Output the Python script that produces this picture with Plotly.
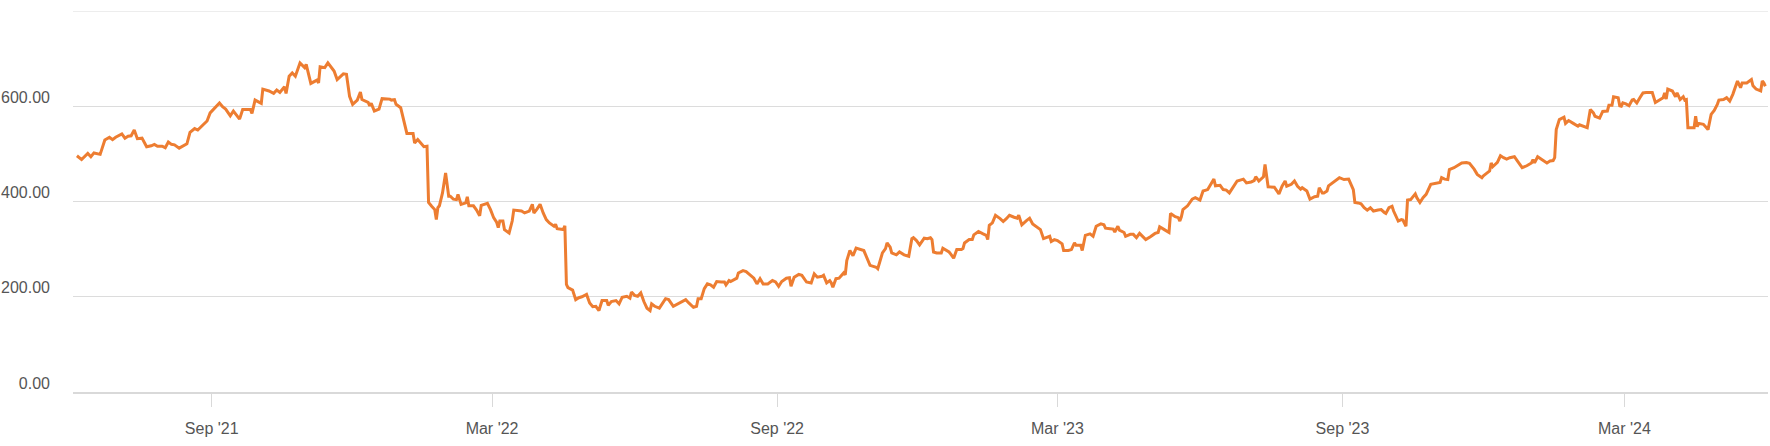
import plotly.graph_objects as go

dates = [
    "2021-06-06", "2021-06-09", "2021-06-13", "2021-06-15", "2021-06-17", "2021-06-21", "2021-06-24", "2021-06-27",
    "2021-06-29", "2021-07-01", "2021-07-05", "2021-07-07", "2021-07-09", "2021-07-11", "2021-07-13", "2021-07-15",
    "2021-07-18", "2021-07-21", "2021-07-24", "2021-07-26", "2021-07-28", "2021-07-31", "2021-08-02", "2021-08-04",
    "2021-08-06", "2021-08-08", "2021-08-11", "2021-08-14", "2021-08-16", "2021-08-18", "2021-08-21", "2021-08-23",
    "2021-08-26", "2021-08-29", "2021-08-31", "2021-09-06", "2021-09-08", "2021-09-10", "2021-09-13", "2021-09-15",
    "2021-09-19", "2021-09-21", "2021-09-26", "2021-09-27", "2021-09-29", "2021-10-03", "2021-10-04", "2021-10-08",
    "2021-10-11", "2021-10-13", "2021-10-15", "2021-10-18", "2021-10-19", "2021-10-21", "2021-10-23", "2021-10-25",
    "2021-10-28", "2021-10-31", "2021-11-01", "2021-11-04", "2021-11-08", "2021-11-09", "2021-11-10", "2021-11-13",
    "2021-11-15", "2021-11-19", "2021-11-21", "2021-11-25", "2021-11-27", "2021-11-29", "2021-12-01", "2021-12-04",
    "2021-12-06", "2021-12-07", "2021-12-11", "2021-12-12", "2021-12-13", "2021-12-15", "2021-12-18", "2021-12-20",
    "2021-12-25", "2021-12-26", "2021-12-28", "2021-12-29",
    "2022-01-01", "2022-01-03", "2022-01-05", "2022-01-09", "2022-01-10", "2022-01-12", "2022-01-16", "2022-01-18",
    "2022-01-19", "2022-01-21", "2022-01-23", "2022-01-24", "2022-01-25", "2022-01-26", "2022-01-28", "2022-01-30",
    "2022-02-01", "2022-02-02", "2022-02-04", "2022-02-06", "2022-02-07", "2022-02-09", "2022-02-12", "2022-02-13",
    "2022-02-14", "2022-02-17", "2022-02-19", "2022-02-21", "2022-02-22", "2022-02-26", "2022-02-28", "2022-03-02",
    "2022-03-04", "2022-03-05", "2022-03-06", "2022-03-08", "2022-03-09", "2022-03-12", "2022-03-14", "2022-03-15",
    "2022-03-18", "2022-03-20", "2022-03-22", "2022-03-25", "2022-03-27", "2022-03-28", "2022-03-30", "2022-04-01",
    "2022-04-03", "2022-04-05", "2022-04-07", "2022-04-10", "2022-04-11", "2022-04-12", "2022-04-16", "2022-04-17",
    "2022-04-18", "2022-04-19", "2022-04-22", "2022-04-24", "2022-04-26", "2022-04-28", "2022-05-01", "2022-05-03",
    "2022-05-05", "2022-05-07", "2022-05-09", "2022-05-11", "2022-05-14", "2022-05-15", "2022-05-17", "2022-05-20",
    "2022-05-22", "2022-05-24", "2022-05-27", "2022-05-29", "2022-05-30", "2022-06-01", "2022-06-03", "2022-06-05",
    "2022-06-07", "2022-06-09", "2022-06-11", "2022-06-12", "2022-06-14", "2022-06-17", "2022-06-21", "2022-06-23",
    "2022-06-26", "2022-06-29", "2022-07-01", "2022-07-04", "2022-07-06", "2022-07-09", "2022-07-11", "2022-07-12",
    "2022-07-14", "2022-07-16", "2022-07-18", "2022-07-20", "2022-07-22", "2022-07-24", "2022-07-27", "2022-07-29",
    "2022-07-30", "2022-08-01", "2022-08-02", "2022-08-04", "2022-08-06", "2022-08-07", "2022-08-10", "2022-08-12",
    "2022-08-15", "2022-08-17", "2022-08-19", "2022-08-20", "2022-08-21", "2022-08-23", "2022-08-26", "2022-08-29",
    "2022-08-31", "2022-09-02", "2022-09-04", "2022-09-07", "2022-09-09", "2022-09-10", "2022-09-12", "2022-09-15",
    "2022-09-17", "2022-09-20", "2022-09-23", "2022-09-25", "2022-09-27", "2022-09-30", "2022-10-01", "2022-10-03",
    "2022-10-05", "2022-10-06", "2022-10-07", "2022-10-09", "2022-10-11", "2022-10-14", "2022-10-15", "2022-10-16",
    "2022-10-18", "2022-10-20", "2022-10-22", "2022-10-27", "2022-10-28", "2022-10-30", "2022-10-31", "2022-11-04",
    "2022-11-05", "2022-11-08", "2022-11-10", "2022-11-11", "2022-11-13", "2022-11-14", "2022-11-17", "2022-11-19",
    "2022-11-22", "2022-11-25", "2022-11-27", "2022-11-28", "2022-11-30", "2022-12-02", "2022-12-05", "2022-12-07",
    "2022-12-09", "2022-12-10", "2022-12-11", "2022-12-13", "2022-12-16", "2022-12-17", "2022-12-21", "2022-12-22",
    "2022-12-24", "2022-12-26", "2022-12-29", "2022-12-30", "2022-12-31",
    "2023-01-03", "2023-01-05", "2023-01-06", "2023-01-09", "2023-01-12", "2023-01-14", "2023-01-15", "2023-01-16",
    "2023-01-18", "2023-01-20", "2023-01-23", "2023-01-25", "2023-01-27", "2023-01-29", "2023-02-01", "2023-02-03",
    "2023-02-04", "2023-02-06", "2023-02-09", "2023-02-11", "2023-02-13", "2023-02-16", "2023-02-18", "2023-02-20",
    "2023-02-22", "2023-02-24", "2023-02-25", "2023-02-27", "2023-03-01", "2023-03-02", "2023-03-04", "2023-03-05",
    "2023-03-08", "2023-03-10", "2023-03-12", "2023-03-13", "2023-03-15", "2023-03-16", "2023-03-17", "2023-03-19",
    "2023-03-22", "2023-03-24", "2023-03-26", "2023-03-29", "2023-03-31", "2023-04-01", "2023-04-04", "2023-04-06",
    "2023-04-07", "2023-04-09", "2023-04-10", "2023-04-13", "2023-04-14", "2023-04-17", "2023-04-19", "2023-04-21",
    "2023-04-23", "2023-04-25", "2023-04-27", "2023-04-30", "2023-05-03", "2023-05-05", "2023-05-06", "2023-05-09",
    "2023-05-12", "2023-05-13", "2023-05-16", "2023-05-18", "2023-05-19", "2023-05-20", "2023-05-21", "2023-05-24",
    "2023-05-27", "2023-05-29", "2023-06-01", "2023-06-03", "2023-06-06", "2023-06-08", "2023-06-10", "2023-06-11",
    "2023-06-14", "2023-06-16", "2023-06-18", "2023-06-20", "2023-06-23", "2023-06-25", "2023-06-27", "2023-06-29",
    "2023-07-01", "2023-07-04", "2023-07-06", "2023-07-07", "2023-07-09", "2023-07-10", "2023-07-12", "2023-07-13",
    "2023-07-14", "2023-07-15", "2023-07-19", "2023-07-22", "2023-07-24", "2023-07-26", "2023-07-27", "2023-07-30",
    "2023-08-01", "2023-08-03", "2023-08-05", "2023-08-06", "2023-08-09", "2023-08-11", "2023-08-14", "2023-08-16",
    "2023-08-17", "2023-08-19", "2023-08-20", "2023-08-22", "2023-08-23", "2023-08-26", "2023-08-30", "2023-09-02",
    "2023-09-05", "2023-09-08", "2023-09-09", "2023-09-11", "2023-09-13", "2023-09-15", "2023-09-17", "2023-09-19",
    "2023-09-21", "2023-09-24", "2023-09-26", "2023-09-28", "2023-09-29", "2023-10-01", "2023-10-03", "2023-10-04",
    "2023-10-06", "2023-10-07", "2023-10-09", "2023-10-10", "2023-10-12", "2023-10-13", "2023-10-15", "2023-10-18",
    "2023-10-19", "2023-10-21", "2023-10-23", "2023-10-25", "2023-10-28", "2023-10-30", "2023-11-02", "2023-11-03",
    "2023-11-04", "2023-11-06", "2023-11-08", "2023-11-09", "2023-11-12", "2023-11-14", "2023-11-17", "2023-11-20",
    "2023-11-22", "2023-11-25", "2023-11-27", "2023-11-30", "2023-12-01", "2023-12-03", "2023-12-05", "2023-12-06",
    "2023-12-07", "2023-12-10", "2023-12-12", "2023-12-14", "2023-12-16", "2023-12-18", "2023-12-21", "2023-12-23",
    "2023-12-26", "2023-12-29",
    "2024-01-01", "2024-01-02", "2024-01-03", "2024-01-05", "2024-01-07", "2024-01-09", "2024-01-11", "2024-01-13",
    "2024-01-15", "2024-01-16", "2024-01-17", "2024-01-19", "2024-01-22", "2024-01-23", "2024-01-25", "2024-01-28",
    "2024-01-31", "2024-02-01", "2024-02-03", "2024-02-06", "2024-02-08", "2024-02-10", "2024-02-11", "2024-02-14",
    "2024-02-16", "2024-02-19", "2024-02-20", "2024-02-22", "2024-02-23", "2024-02-26", "2024-02-27", "2024-02-28",
    "2024-02-29", "2024-03-02", "2024-03-04", "2024-03-06", "2024-03-07", "2024-03-09", "2024-03-11", "2024-03-13",
    "2024-03-15", "2024-03-19", "2024-03-21", "2024-03-24", "2024-03-26", "2024-03-27", "2024-03-28", "2024-03-29",
    "2024-04-01", "2024-04-03", "2024-04-04", "2024-04-06", "2024-04-08", "2024-04-09", "2024-04-10", "2024-04-11",
    "2024-04-15", "2024-04-16", "2024-04-17", "2024-04-18", "2024-04-21", "2024-04-23", "2024-04-24", "2024-04-26",
    "2024-04-28", "2024-04-30", "2024-05-01", "2024-05-04", "2024-05-06", "2024-05-08", "2024-05-10", "2024-05-13",
    "2024-05-15", "2024-05-16", "2024-05-19", "2024-05-22", "2024-05-23", "2024-05-25", "2024-05-28", "2024-05-29",
    "2024-05-30", "2024-05-31",
]

prices = [
    496, 488, 501, 494, 502, 499, 529, 535, 530, 535, 542, 533, 537, 538, 550, 532,
    533, 515, 517, 520, 516, 516, 513, 525, 520, 519, 512, 517, 521, 545, 553, 550,
    559, 569, 586, 607, 599, 594, 580, 590, 573, 593, 593, 585, 613, 606, 636, 632,
    627, 634, 629, 641, 627, 663, 670, 663, 691, 681, 688, 648, 655, 649, 683, 681,
    691, 674, 656, 668, 667, 621, 604, 613, 630, 614, 608, 601, 606, 590, 594, 616,
    615, 613, 614, 604,
    597, 572, 543, 543, 523, 530, 515, 516, 398, 390, 383, 362, 387, 391, 418, 460,
    411, 411, 405, 404, 415, 394, 397, 410, 391, 391, 382, 370, 392, 396, 383, 366,
    356, 345, 359, 359, 341, 334, 359, 382, 380, 380, 376, 380, 394, 376, 384, 394,
    376, 362, 355, 348, 352, 343, 341, 349, 226, 219, 214, 194, 198, 200, 205, 187,
    179, 180, 171, 192, 192, 182, 190, 192, 185, 199, 201, 197, 210, 203, 201, 208,
    190, 176, 171, 185, 180, 176, 196, 194, 180, 185, 189, 194, 187, 178, 180, 196,
    196, 217, 227, 225, 220, 232, 231, 231, 225, 234, 232, 236, 239, 250, 255, 253,
    245, 239, 227, 232, 238, 227, 227, 234, 231, 222, 232, 239, 240, 222, 241, 247,
    245, 231, 229, 248, 241, 243, 245, 229, 234, 229, 220, 238, 239, 250, 246, 276,
    297, 286, 302, 297, 290, 273, 266, 262, 259, 292, 301, 313, 304, 292, 288, 294,
    288, 285, 322, 324, 318, 309, 323, 322, 324, 320, 294, 292, 292, 302, 294, 290,
    281, 299, 299, 301, 313,
    320, 320, 330, 337, 332, 329, 320, 350, 355, 371, 364, 358, 364, 371, 367, 365,
    371, 351, 360, 365, 353, 346, 341, 322, 325, 327, 316, 320, 318, 316, 311, 297,
    297, 299, 313, 308, 309, 308, 297, 329, 332, 327, 348, 353, 351, 344, 343, 342,
    336, 348, 340, 335, 327, 331, 331, 324, 333, 327, 320, 326, 333, 335, 347, 341,
    335, 375, 368, 366, 359, 368, 383, 391, 405, 408, 403, 422, 425, 436, 447, 433,
    434, 425, 424, 418, 433, 443, 445, 447, 439, 441, 444, 452, 443, 446, 452, 478,
    457, 431, 430, 416, 432, 443, 432, 436, 443, 432, 426, 429, 422, 405, 410, 411,
    429, 418, 418, 422, 433, 440, 450, 446, 447, 425, 398, 397, 395, 387, 382, 387,
    380, 382, 383, 377, 375, 387, 390, 380, 366, 359, 362, 361, 348, 403, 404, 416,
    408, 398, 408, 415, 436, 437, 438, 440, 450, 447, 446, 467, 471, 475, 481, 482,
    480, 468, 457, 450, 454, 459, 464, 481, 473, 482, 496, 492, 489, 492, 494, 485,
    471, 475,
    481, 488, 481, 494, 489, 485, 481, 485, 486, 492, 551, 572, 577, 564, 570, 564,
    558, 561, 559, 555, 593, 586, 579, 575, 589, 590, 602, 602, 620, 618, 601, 600,
    607, 605, 601, 613, 614, 607, 618, 628, 629, 629, 608, 613, 618, 628, 615, 636,
    632, 620, 628, 614, 620, 613, 614, 555, 555, 579, 557, 564, 562, 555, 551, 583,
    591, 604, 613, 614, 618, 611, 625, 653, 639, 649, 649, 656, 643, 636, 632, 653,
    649, 642,
]

tick_dates = ["2021-09-01", "2022-03-01", "2022-09-01", "2023-03-01", "2023-09-01", "2024-03-01"]
tick_labels = ["Sep '21", "Mar '22", "Sep '22", "Mar '23", "Sep '23", "Mar '24"]
y_ticks = [0, 200, 400, 600, 800]
y_labels = ["0.00", "200.00", "400.00", "600.00", ""]

GRID = "#DCDCDC"

fig = go.Figure()

fig.add_trace(
    go.Scatter(
        x=dates,
        y=prices,
        mode="lines",
        line=dict(color="#ED7D31", width=3),
        hovertemplate="%{x|%d %b %Y}<br>%{y:.2f}<extra></extra>",
    )
)

# top gridline (plotly drops the one sitting on the range edge)
fig.add_hline(y=y_ticks[-1], line_color=GRID, line_width=1, layer="below")

fig.update_layout(
    width=1770,
    height=446,
    margin=dict(l=73, r=2, t=11, b=54),
    plot_bgcolor="#FFFFFF",
    paper_bgcolor="#FFFFFF",
    showlegend=False,
    font=dict(family="Liberation Sans, Arial, sans-serif", size=16, color="#555555"),
)

fig.update_xaxes(
    type="date",
    range=["2021-06-03 11:00", "2024-06-01 17:00"],
    tickvals=tick_dates,
    ticktext=tick_labels,
    ticks="outside",
    ticklen=13,
    tickwidth=1,
    tickcolor="#D9D9D9",
    showgrid=False,
    showline=True,
    linecolor="#D9D9D9",
    linewidth=2,
    zeroline=False,
    ticklabelstandoff=8,
    automargin=False,
)

fig.update_yaxes(
    range=[0, 800],
    tickvals=y_ticks,
    ticktext=y_labels,
    showgrid=True,
    gridcolor=GRID,
    gridwidth=1,
    zeroline=False,
    ticks="",
    ticklabelstandoff=22,
    ticklabelshift=-9,
    automargin=False,
)

# drop the default 8px body margin so the figure sits flush in the window
fig.write_html(
    "out.html",
    config={"displayModeBar": False},
    post_script="document.body.style.margin = '0';",
)
